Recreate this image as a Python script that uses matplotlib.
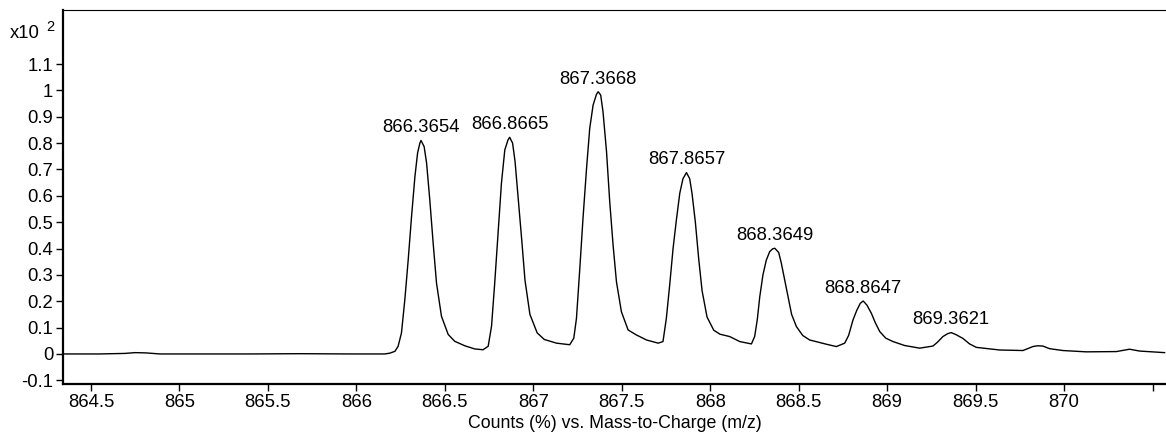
"""
Isotope envelope of a mass spectrum (counts % vs. m/z), recreated by hand.
"""

import matplotlib
matplotlib.use("Agg")
import matplotlib.pyplot as plt
from matplotlib.ticker import FixedLocator, FixedFormatter

plt.rcParams["font.family"] = ["Liberation Sans", "DejaVu Sans"]

# traced profile, counts in units of x10^2 %
MZ = [
    864.34, 864.55, 864.69, 864.75, 864.81, 864.89, 865.40, 865.68, 865.96,
    866.161, 866.189, 866.218, 866.236, 866.255, 866.274, 866.293, 866.312,
    866.331, 866.346, 866.359, 866.3654, 866.383, 866.397, 866.415, 866.434,
    866.453, 866.481, 866.519, 866.556, 866.613, 866.669, 866.716, 866.745,
    866.764, 866.782, 866.801, 866.820, 866.839, 866.857, 866.8665, 866.883,
    866.897, 866.915, 866.935, 866.953, 866.981, 867.022, 867.062, 867.131,
    867.206, 867.229, 867.244, 867.263, 867.281, 867.301, 867.319, 867.338,
    867.357, 867.3668, 867.381, 867.394, 867.414, 867.432, 867.451, 867.470,
    867.498, 867.536, 867.583, 867.640, 867.706, 867.733, 867.752, 867.771,
    867.790, 867.809, 867.828, 867.846, 867.8657, 867.884, 867.897, 867.916,
    867.935, 867.954, 867.982, 868.020, 868.055, 868.110, 868.167, 868.233,
    868.251, 868.266, 868.280, 868.298, 868.317, 868.336, 868.353, 868.3649,
    868.387, 868.402, 868.421, 868.440, 868.460, 868.487, 868.523, 868.562,
    868.656, 868.713, 868.760, 868.782, 868.807, 868.828, 868.848, 868.8647,
    868.886, 868.911, 868.932, 868.958, 868.992, 869.033, 869.099, 869.184,
    869.259, 869.285, 869.315, 869.342, 869.3621, 869.390, 869.428, 869.466,
    869.504, 869.636, 869.767, 869.794, 869.823, 869.849, 869.880, 869.918,
    869.993, 870.125, 870.295, 870.370, 870.427, 870.568,
]
COUNTS = [
    0.000, 0.000, 0.002, 0.005, 0.004, 0.000, 0.000, 0.001, 0.000,
    0.000, 0.003, 0.010, 0.029, 0.080, 0.206, 0.357, 0.522,
    0.673, 0.762, 0.800, 0.810, 0.787, 0.724, 0.585, 0.421,
    0.269, 0.143, 0.074, 0.048, 0.031, 0.019, 0.016, 0.029,
    0.105, 0.269, 0.459, 0.648, 0.774, 0.812, 0.822, 0.800,
    0.730, 0.590, 0.430, 0.280, 0.150, 0.080, 0.055, 0.041,
    0.035, 0.060, 0.135, 0.325, 0.515, 0.704, 0.856, 0.944,
    0.985, 0.995, 0.982, 0.919, 0.767, 0.578, 0.413, 0.274,
    0.160, 0.091, 0.072, 0.053, 0.041, 0.047, 0.135, 0.262,
    0.400, 0.510, 0.610, 0.665, 0.688, 0.665, 0.610, 0.500,
    0.360, 0.240, 0.140, 0.090, 0.075, 0.066, 0.047, 0.038,
    0.066, 0.130, 0.217, 0.300, 0.356, 0.388, 0.399, 0.401,
    0.385, 0.344, 0.280, 0.217, 0.150, 0.104, 0.070, 0.053,
    0.037, 0.028, 0.041, 0.070, 0.129, 0.165, 0.192, 0.201,
    0.185, 0.154, 0.120, 0.085, 0.060, 0.047, 0.032, 0.022,
    0.030, 0.045, 0.066, 0.077, 0.081, 0.073, 0.059, 0.038,
    0.025, 0.015, 0.013, 0.020, 0.028, 0.031, 0.030, 0.020,
    0.013, 0.008, 0.009, 0.018, 0.011, 0.005,
]

PEAK_MZ = [866.3654, 866.8665, 867.3668, 867.8657, 868.3649, 868.8647, 869.3621]
PEAK_COUNTS = [0.810, 0.822, 0.995, 0.688, 0.401, 0.201, 0.081]

X_TICKS = [864.5, 865, 865.5, 866, 866.5, 867, 867.5, 868, 868.5, 869, 869.5, 870, 870.5]
X_TICK_LABELS = ["864.5", "865", "865.5", "866", "866.5", "867", "867.5",
                 "868", "868.5", "869", "869.5", "870", ""]
Y_TICKS = [-0.1, 0, 0.1, 0.2, 0.3, 0.4, 0.5, 0.6, 0.7, 0.8, 0.9, 1, 1.1]
Y_TICK_LABELS = ["-0.1", "0", "0.1", "0.2", "0.3", "0.4", "0.5", "0.6",
                 "0.7", "0.8", "0.9", "1", "1.1"]


def main():
    fig = plt.figure(figsize=(11.66, 4.36), dpi=100)
    ax = fig.add_axes([63 / 1166, 1 - 384 / 436, 1 - 63 / 1166, (384 - 10) / 436])

    ax.plot(MZ, COUNTS, color="black", lw=1.0, solid_joinstyle="round")

    for mz, c in zip(PEAK_MZ, PEAK_COUNTS):
        ax.annotate(f"{mz:.4f}", (mz, c), xytext=(0, 3), textcoords="offset points",
                    ha="center", va="bottom", fontsize=13.3)

    ax.set_xlim(864.342, 870.576)
    ax.set_ylim(-0.114, 1.305)

    ax.xaxis.set_major_locator(FixedLocator(X_TICKS))
    ax.xaxis.set_major_formatter(FixedFormatter(X_TICK_LABELS))
    ax.yaxis.set_major_locator(FixedLocator(Y_TICKS))
    ax.yaxis.set_major_formatter(FixedFormatter(Y_TICK_LABELS))
    ax.tick_params(direction="out", length=5, width=1, labelsize=13.3, pad=2)

    ax.spines["right"].set_visible(False)
    ax.spines["top"].set_linewidth(0.8)
    ax.spines["left"].set_linewidth(1.6)
    ax.spines["bottom"].set_linewidth(1.6)

    ax.set_xlabel("Counts (%) vs. Mass-to-Charge (m/z)", fontsize=12.8, labelpad=3)

    fig.text(10 / 1166, 1 - 33 / 436, "x10", fontsize=13.3, ha="left", va="center")
    fig.text(46 / 1166, 1 - 27 / 436, "2", fontsize=10.5, ha="left", va="center")

    fig.savefig("out.png", dpi=100)
    plt.close(fig)


if __name__ == "__main__":
    main()
